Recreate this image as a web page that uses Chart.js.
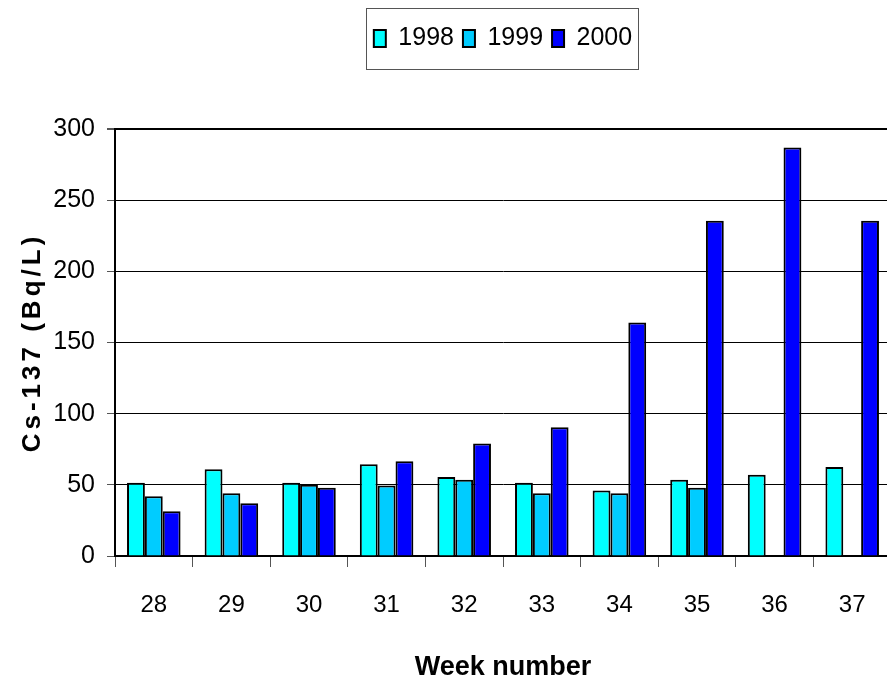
<!DOCTYPE html>
<html>
<head>
<meta charset="utf-8">
<script src="https://cdn.jsdelivr.net/npm/chart.js@4.4.1/dist/chart.umd.min.js"></script>
<style>
  html, body { margin: 0; padding: 0; background: #fff; overflow: hidden; }
  #wrap { width: 895px; height: 686px; }
</style>
</head>
<body>
<div id="wrap"><canvas id="myChart"></canvas></div>
<script>
// ── données ──
const weeks = ['28', '29', '30', '31', '32', '33', '34', '35', '36', '37'];
const cs1998 = [51.5, 61, 51.5, 64.5, 55.5, 51.5, 46, 53.5, 57, 62.5];
const cs1999 = [42, 44, 50, 49.5, 53.5, 44, 44, 48, null, null];
const cs2000 = [31.5, 37, 48, 66.5, 79, 90.5, 164, 235.5, 287, 235.5];
const yTicks = [0, 50, 100, 150, 200, 250, 300];

const FONT = "'Liberation Sans', Arial, sans-serif";

// légende : espace en dessous + cadre
const legendSpace = {
  id: 'legendSpace',
  beforeInit(chart) {
    const fit = chart.legend.fit;
    chart.legend.fit = function () {
      fit.bind(chart.legend)();
      this.height += 68;
    };
  },
  afterDraw(chart) {
    const boxes = chart.legend.legendHitBoxes;
    if (!boxes || !boxes.length) return;
    const left = Math.min(...boxes.map(b => b.left)) - 8;
    const right = Math.max(...boxes.map(b => b.left + b.width)) + 6;
    const ctx = chart.ctx;
    ctx.save();
    ctx.strokeStyle = '#555';
    ctx.lineWidth = 1;
    ctx.strokeRect(Math.round(left) + 0.5, 8.5, Math.round(right - left), 61);
    ctx.restore();
  }
};

// titre de l'axe Y (espacement des lettres)
const yTitle = {
  id: 'yTitle',
  afterDraw(chart) {
    const { ctx, chartArea } = chart;
    ctx.save();
    ctx.translate(33, (chartArea.top + chartArea.bottom) / 2);
    ctx.rotate(-Math.PI / 2);
    ctx.font = "bold 26px 'Liberation Sans', Arial, sans-serif";
    ctx.letterSpacing = '4px';
    ctx.fillStyle = '#000';
    ctx.textAlign = 'center';
    ctx.textBaseline = 'middle';
    ctx.fillText('Cs-137 (Bq/L)', 0, 0);
    ctx.restore();
  }
};

const ctx = document.getElementById('myChart').getContext('2d');
new Chart(ctx, {
  type: 'bar',
  data: {
    labels: weeks,
    datasets: [
      { label: '1998', data: cs1998, backgroundColor: '#00FFFF' },
      { label: '1999', data: cs1999, backgroundColor: '#00CCFF' },
      { label: '2000', data: cs2000, backgroundColor: '#0000FF' }
    ].map(d => Object.assign(d, { borderColor: '#000', borderWidth: 2 }))
  },
  options: {
    responsive: true,
    maintainAspectRatio: false,
    animation: false,
    categoryPercentage: 0.69,
    barPercentage: 1,
    layout: { padding: { top: 17, right: 4, left: 0, bottom: 0 } },
    plugins: {
      legend: {
        position: 'top',
        fullSize: false,
        labels: {
          color: '#000',
          font: { family: FONT, size: 25 },
          boxWidth: 12,
          boxHeight: 17,
          padding: 9
        }
      },
      tooltip: { enabled: false }
    },
    scales: {
      x: {
        grid: {
          offset: true,
          drawOnChartArea: false,
          tickLength: 11,
          tickColor: '#555'
        },
        border: { color: '#000', width: 2 },
        ticks: { color: '#000', padding: 24, font: { family: FONT, size: 24 } },
        title: {
          display: true,
          text: 'Week number',
          color: '#000',
          padding: { top: 4, bottom: 2 },
          font: { family: FONT, size: 27, weight: 'bold' }
        },
        afterFit: s => { s.height = 130; }
      },
      y: {
        min: 0,
        max: 300,
        afterBuildTicks: s => { s.ticks = yTicks.map(v => ({ value: v })); },
        grid: {
          color: '#000',
          lineWidth: c => (c.tick && c.tick.value === 300 ? 2 : 1),
          tickLength: 8,
          tickColor: '#555'
        },
        border: { color: '#000', width: 2 },
        ticks: { color: '#000', padding: 12, font: { family: FONT, size: 25 } },
        afterFit: s => { s.width = 115; }
      }
    }
  },
  plugins: [legendSpace, yTitle]
});
</script>
</body>
</html>
